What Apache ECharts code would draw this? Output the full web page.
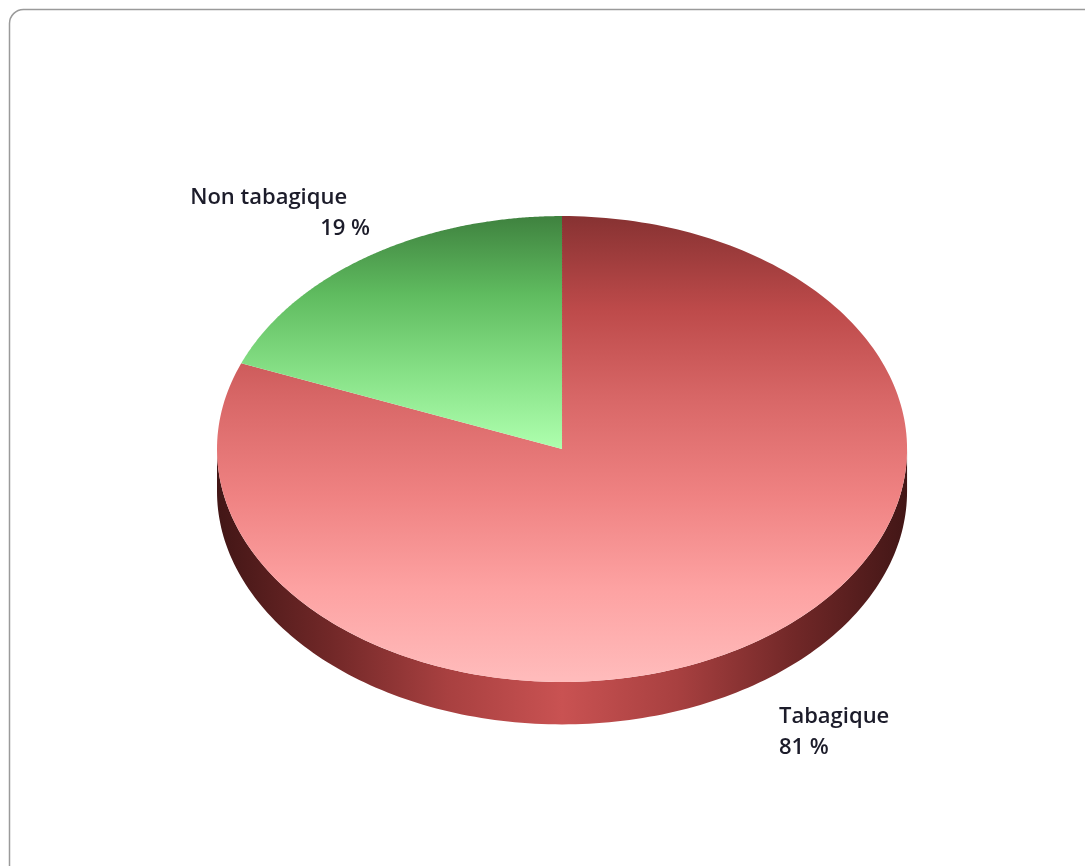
<!DOCTYPE html>
<html>
<head>
<meta charset="utf-8">
<title>Tabagisme</title>
<script src="https://cdn.jsdelivr.net/npm/echarts@6/dist/echarts.min.js"></script>
<style>
  html, body { margin: 0; padding: 0; background: #ffffff; }
  #chart { width: 1085px; height: 866px; }
</style>
</head>
<body>
<div id="chart"></div>
<script>
// Slice names and their shares (percent)
const categories = ['Tabagique', 'Non tabagique'];
const values = [81, 19];

// Colour ramps for the top face of each slice (top -> bottom)
const topRamps = [
  ['#873232', '#bd4a4a', '#d96868', '#ef8282', '#fda2a2', '#ffbcbc'],
  ['#3f823f', '#5fbb5f', '#86e086', '#aeffae']
];
const sideRamp = ['#421616', '#722828', '#a84040', '#c95252', '#a84040', '#722828', '#421616'];

const total = values.reduce((a, b) => a + b, 0);
const starts = [];
values.reduce((acc, v, i) => { starts[i] = acc; return acc + v; }, 0);

const chart = echarts.init(document.getElementById('chart'), null, { renderer: 'canvas' });

// Ellipse geometry (pixels)
function geom(api) {
  const W = api.getWidth(), H = api.getHeight();
  return { cx: W * 0.518, cy: H * 0.5185, rx: W * 0.318, ry: H * 0.269, depth: H * 0.049 };
}
function pt(g, theta, dy) {
  return [g.cx + g.rx * Math.sin(theta), g.cy - g.ry * Math.cos(theta) + (dy || 0)];
}
function stops(ramp) {
  return ramp.map((c, i) => ({ offset: i / (ramp.length - 1), color: c }));
}

// Side wall of each slice, front half only
function renderSide(params, api) {
  const i = params.dataIndex;
  const g = geom(api);
  const a0 = Math.max(2 * Math.PI * starts[i] / total, Math.PI / 2);
  const a1 = Math.min(2 * Math.PI * (starts[i] + values[i]) / total, 3 * Math.PI / 2);
  if (a1 <= a0) return null;
  const n = 160, pts = [];
  for (let k = 0; k <= n; k++) pts.push(pt(g, a0 + (a1 - a0) * k / n, 0));
  for (let k = n; k >= 0; k--) pts.push(pt(g, a0 + (a1 - a0) * k / n, g.depth));
  return {
    type: 'polygon',
    shape: { points: pts },
    style: {
      fill: { type: 'linear', x: g.cx - g.rx, y: 0, x2: g.cx + g.rx, y2: 0, global: true, colorStops: stops(sideRamp) }
    }
  };
}

// Top face of each slice with its label
function renderTop(params, api) {
  const i = params.dataIndex;
  const g = geom(api);
  const a0 = 2 * Math.PI * starts[i] / total;
  const a1 = 2 * Math.PI * (starts[i] + values[i]) / total;
  const n = 240, pts = [[g.cx, g.cy]];
  for (let k = 0; k <= n; k++) pts.push(pt(g, a0 + (a1 - a0) * k / n, 0));
  let minY = Infinity, maxY = -Infinity;
  pts.forEach(p => { minY = Math.min(minY, p[1]); maxY = Math.max(maxY, p[1]); });

  const mid = (a0 + a1) / 2;
  const right = Math.sin(mid) >= 0;
  const low = Math.cos(mid) < 0;
  const anchor = pt(g, mid, low ? g.depth : 0);
  const font = { fontFamily: 'Open Sans', fontWeight: 600, fontSize: 22, fill: '#1c1c2a' };
  let nameX, nameY, valX, valY, align;
  if (right) {
    align = 'left';
    nameX = anchor[0] + 23; nameY = anchor[1] + 33;
    valX = anchor[0] + 23; valY = anchor[1] + 64;
  } else {
    align = 'right';
    nameX = anchor[0] - 21; nameY = anchor[1] - 59;
    valX = anchor[0] + 2; valY = anchor[1] - 28;
  }
  return {
    type: 'group',
    children: [
      {
        type: 'polygon',
        shape: { points: pts },
        style: {
          fill: { type: 'linear', x: 0, y: minY, x2: 0, y2: maxY, global: true, colorStops: stops(topRamps[i]) }
        }
      },
      { type: 'text', x: nameX, y: nameY, style: Object.assign({ text: categories[i], align: align, verticalAlign: 'middle' }, font) },
      { type: 'text', x: valX, y: valY, style: Object.assign({ text: values[i] + ' %', align: align, verticalAlign: 'middle' }, font) }
    ]
  };
}

const seriesData = values.map((v, i) => ({ name: categories[i], value: v }));

chart.setOption({
  backgroundColor: '#ffffff',
  animation: false,
  graphic: [{
    type: 'rect',
    shape: { x: 9.5, y: 9.5, width: 1090, height: 880, r: 14 },
    style: { fill: '#ffffff', stroke: '#9a9a9a', lineWidth: 1.5 },
    z: -10
  }],
  series: [
    { type: 'custom', coordinateSystem: 'none', renderItem: renderSide, data: seriesData, z: 1 },
    { type: 'custom', coordinateSystem: 'none', renderItem: renderTop, data: seriesData, z: 2 }
  ]
});
</script>
</body>
</html>
